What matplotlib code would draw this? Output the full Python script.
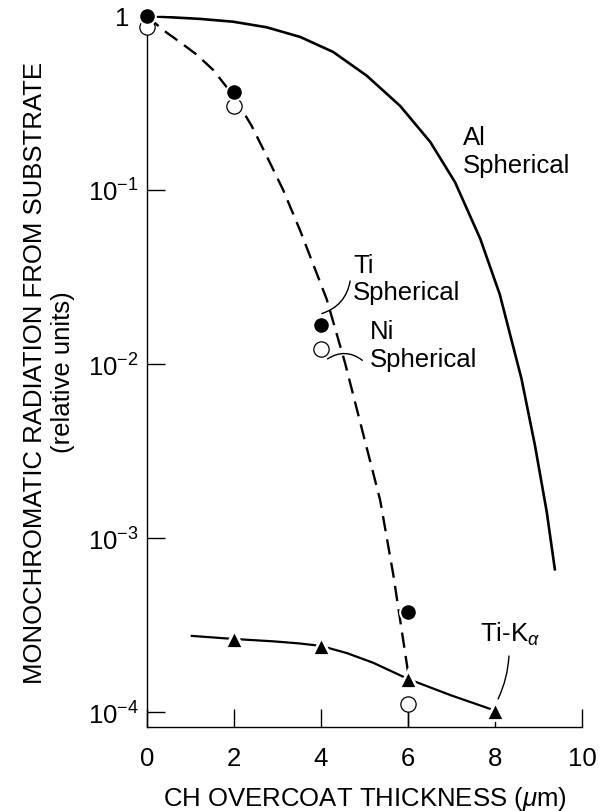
import matplotlib
matplotlib.use("Agg")
import matplotlib.pyplot as plt
import matplotlib.transforms as mtransforms
import numpy as np

plt.rcParams['font.family'] = ['Liberation Sans', 'DejaVu Sans']
plt.rcParams['mathtext.fontset'] = 'custom'
plt.rcParams['mathtext.rm'] = 'Liberation Sans'
plt.rcParams['mathtext.it'] = 'Liberation Sans:italic'
plt.rcParams['mathtext.default'] = 'regular'

# ---- data ----
al_x = [0, 1.22, 1.98, 2.75, 3.52, 4.28, 5.05, 5.82, 6.51, 7.08, 7.66, 8.11, 8.61, 8.92, 9.19, 9.38]
al_y = [1.0, 0.962, 0.927, 0.861, 0.758, 0.621, 0.454, 0.304, 0.189, 0.111,
        0.0525, 0.0251, 0.0082, 0.00339, 0.00141, 0.00065]

ti_x = [0, 2, 4, 6]
ti_y = [1.0, 0.366, 0.0168, 3.76e-4]

ni_x = [0, 2, 4, 6]
ni_y = [0.865, 0.304, 0.0122, 1.11e-4]

fit_x = [0, 0.37, 0.75, 1.14, 1.52, 2.0, 2.4, 2.76, 3.13, 3.52, 4.13, 4.55, 5.0, 5.36, 5.66, 6.0]
fit_y = [1.0, 0.83, 0.71, 0.60, 0.49, 0.345, 0.235, 0.155, 0.1, 0.0585, 0.0236, 0.0102,
         0.0037, 0.00165, 6.2e-4, 1.7e-4]

ka_x = [2, 4, 6, 8]
ka_y = [2.63e-4, 2.40e-4, 1.55e-4, 1.02e-4]
ka_curve_x = [1.03, 2, 2.9, 3.5, 4, 4.6, 5.2, 6, 7, 8]
ka_curve_y = [2.74e-4, 2.63e-4, 2.55e-4, 2.48e-4, 2.40e-4, 2.18e-4, 1.92e-4, 1.55e-4,
              1.245e-4, 1.02e-4]

x_ticks = [0, 2, 4, 6, 8, 10]
y_ticks = [1e-4, 1e-3, 1e-2, 1e-1, 1]
y_ticklabels = ['10$^{-4}$', '10$^{-3}$', '10$^{-2}$', '10$^{-1}$', '1']

FS = 18.5

fig = plt.figure(figsize=(6.01, 8.12), dpi=100)
ax = fig.add_axes([0.2446, 0.1034, 0.7238, 0.8757])
ax.set_yscale('log')
ax.set_xlim(0, 10)
ax.set_ylim(10 ** -4.086, 1)

# curves
ax.plot(al_x, al_y, color='black', lw=1.9, solid_capstyle='butt',
        solid_joinstyle='round', zorder=3)
ax.plot(fit_x, fit_y, color='black', lw=1.7, dashes=(6.5, 3.5), zorder=3)
ax.plot(ka_curve_x, ka_curve_y, color='black', lw=1.6, solid_joinstyle='round', zorder=3)

# markers
ax.vlines(ni_x[3], 10 ** -4.086, ni_y[3], color='black', lw=1.0, zorder=2)
ax.plot(ni_x, ni_y, 'o', ms=11, mfc='white', mec='black', mew=0.9, zorder=4, clip_on=False)
ax.plot(ti_x, ti_y, 'o', ms=12, mfc='black', mec='white', mew=1.5, zorder=5, clip_on=False)
ax.plot(ka_x, ka_y, '^', ms=12.5, mfc='black', mec='white', mew=2.0, zorder=5, clip_on=False)

# axes styling
for s in ['top', 'right']:
    ax.spines[s].set_visible(False)
for s in ['left', 'bottom']:
    ax.spines[s].set_linewidth(1.0)
ax.set_xticks(x_ticks)
ax.set_xticklabels([str(v) for v in x_ticks])
ax.set_yticks(y_ticks)
ax.set_yticklabels(y_ticklabels)
ax.yaxis.set_minor_locator(matplotlib.ticker.NullLocator())
ax.tick_params(axis='both', direction='in', length=13, width=1.0, labelsize=FS)
ax.tick_params(axis='x', pad=14)
ax.tick_params(axis='y', pad=6)

# shift the top "1" label a little left, clear of the marker
top_lab = ax.get_yticklabels()[-1]
top_lab.set_transform(top_lab.get_transform() +
                      mtransforms.ScaledTranslation(-7 / 72, 0, fig.dpi_scale_trans))

ax.set_xlabel('CH OVERCOAT THICKNESS ($\\mathit{\\mu}$m)', fontsize=FS)
ax.xaxis.set_label_coords(0.5, -0.080)
ax.set_ylabel('MONOCHROMATIC RADIATION FROM SUBSTRATE\n(relative units)',
              fontsize=FS, linespacing=1.2)
ax.yaxis.set_label_coords(-0.165, 0.5)

# annotations
ax.text(7.26, 0.1675, 'Al\nSpherical', fontsize=FS, ha='left', va='center', linespacing=1.2)
ax.text(4.74, 0.031, 'Ti\nSpherical', fontsize=FS, ha='left', va='center', linespacing=1.2)
ax.text(5.13, 0.0128, 'Ni\nSpherical', fontsize=FS, ha='left', va='center', linespacing=1.2)
ax.text(7.66, 2.85e-4, 'Ti-K$_{\\mathit{\\alpha}}$', fontsize=FS, ha='left', va='center')

ax.annotate('', xy=(4.02, 0.0195), xytext=(4.67, 0.030),
            arrowprops=dict(arrowstyle='-', lw=1.0, color='black',
                            connectionstyle='arc3,rad=-0.3', shrinkA=0, shrinkB=0))
ax.annotate('', xy=(4.15, 0.0107), xytext=(4.95, 0.0105),
            arrowprops=dict(arrowstyle='-', lw=1.0, color='black',
                            connectionstyle='arc3,rad=0.35', shrinkA=0, shrinkB=0))
ax.annotate('', xy=(8.07, 1.19e-4), xytext=(8.32, 2.1e-4),
            arrowprops=dict(arrowstyle='-', lw=1.0, color='black',
                            connectionstyle='arc3,rad=-0.1', shrinkA=0, shrinkB=0))

fig.savefig('out.png', dpi=100)
